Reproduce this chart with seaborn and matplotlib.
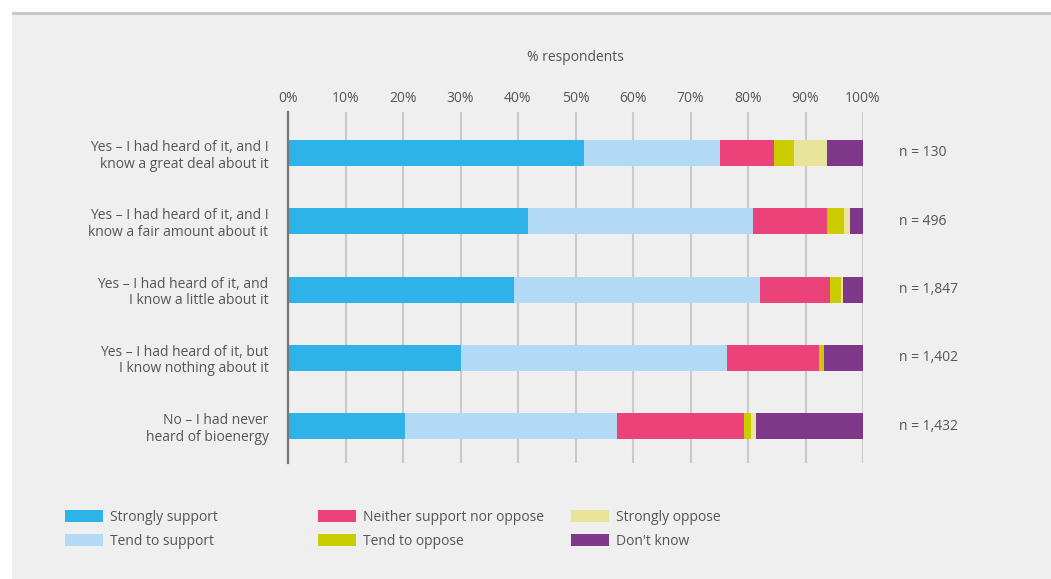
import numpy as np
import pandas as pd
import matplotlib
matplotlib.use("Agg")
import matplotlib.pyplot as plt
from matplotlib.patches import Rectangle, Patch
import seaborn as sns

# Survey answers: awareness of bioenergy vs. support for it (% respondents)
categories = [
    "Yes \u2013 I had heard of it, and I\nknow a great deal about it",
    "Yes \u2013 I had heard of it, and I\nknow a fair amount about it",
    "Yes \u2013 I had heard of it, and\nI know a little about it",
    "Yes \u2013 I had heard of it, but\nI know nothing about it",
    "No \u2013 I had never\nheard of bioenergy",
]
sample_sizes = ["n = 130", "n = 496", "n = 1,847", "n = 1,402", "n = 1,432"]

strongly_support = [51.4, 41.7, 39.3, 30.0, 20.4]
tend_to_support = [23.7, 39.1, 42.7, 46.3, 36.9]
neither = [9.4, 12.9, 12.3, 16.0, 22.0]
tend_to_oppose = [3.5, 3.0, 1.8, 0.9, 1.3]
strongly_oppose = [5.7, 1.0, 0.4, 0.0, 0.8]
dont_know = [6.3, 2.3, 3.5, 6.8, 18.6]

series_names = ["Strongly support", "Tend to support", "Neither support nor oppose",
                "Tend to oppose", "Strongly oppose", "Don't know"]
series_values = [strongly_support, tend_to_support, neither,
                 tend_to_oppose, strongly_oppose, dont_know]
series_colors = ["#2EB3E8", "#B2DAF5", "#EA4279", "#CACC00", "#E8E59B", "#7F3889"]

tick_values = list(range(0, 101, 10))
tick_labels = [f"{v}%" for v in tick_values]

sns.set_style("white")
plt.rcParams["font.family"] = ["Open Sans", "DejaVu Sans"]
text_color = "#555555"

fig = plt.figure(figsize=(10.51, 5.79), dpi=100, facecolor="white")

# grey panel with a darker rule along its top edge (kept behind the axes)
W, H = 1051, 579
fig.patches.append(Rectangle((12 / W, 0), 1 - 12 / W, 1 - 13 / H,
                             transform=fig.transFigure, facecolor="#EFEFEF",
                             edgecolor="none", zorder=-2))
fig.patches.append(Rectangle((12 / W, 1 - 15 / H), 1 - 12 / W, 3 / H,
                             transform=fig.transFigure, facecolor="#C8C8C8",
                             edgecolor="none", zorder=-1))

ax = fig.add_axes([288 / W, 1 - 463 / H, (863 - 288) / W, (463 - 112) / H])
ax.set_facecolor("none")

# stacked bars: draw cumulative totals, longest first, so each segment shows
df = pd.DataFrame({name: vals for name, vals in zip(series_names, series_values)},
                  index=categories)
cum = df.cumsum(axis=1)
for name, color in reversed(list(zip(series_names, series_colors))):
    plot_df = pd.DataFrame({"category": categories, "value": cum[name].values})
    sns.barplot(data=plot_df, x="value", y="category", orient="h", color=color,
                saturation=1, width=0.38, ax=ax, zorder=3, errorbar=None,
                linewidth=0, edgecolor="none")

ax.set_xlim(0, 100)
ax.set_ylim(4.54, -0.6)
ax.set_xticks(tick_values)
ax.set_xticklabels(tick_labels)
ax.xaxis.tick_top()
ax.tick_params(axis="x", length=0, pad=4, labelsize=10, labelcolor=text_color)
ax.tick_params(axis="y", length=0, pad=14, labelsize=10, labelcolor=text_color)
for lab in ax.get_yticklabels():
    lab.set_horizontalalignment("right")
    lab.set_linespacing(1.15)
ax.set_xlabel("")
ax.set_ylabel("")
ax.grid(axis="x", color="#CACACA", linewidth=1.5, zorder=0)
ax.set_axisbelow(True)
for side in ["top", "right", "bottom"]:
    ax.spines[side].set_visible(False)
ax.spines["left"].set_color("#777777")
ax.spines["left"].set_linewidth(1.6)
ax.spines["left"].set_zorder(4)

for i, n in enumerate(sample_sizes):
    ax.text(106.3, i, n, ha="left", va="center", fontsize=10, color=text_color)

fig.text(575.5 / W, 1 - 57.5 / H, "% respondents", ha="center", va="center",
         fontsize=10, color=text_color)

# legend laid out as three fixed columns of two entries
col_x = [65, 318, 571]
for c in range(3):
    handles = [Patch(facecolor=series_colors[2 * c + r], edgecolor="none",
                     label=series_names[2 * c + r]) for r in range(2)]
    leg = fig.legend(handles=handles, loc="upper left",
                     bbox_to_anchor=(col_x[c] / W, 1 - 510 / H),
                     frameon=False, borderpad=0, borderaxespad=0,
                     handlelength=2.75, handleheight=1.0, handletextpad=0.5,
                     labelspacing=0.62, fontsize=10)
    for t in leg.get_texts():
        t.set_color(text_color)

fig.savefig("out.png", dpi=100, facecolor="white")
